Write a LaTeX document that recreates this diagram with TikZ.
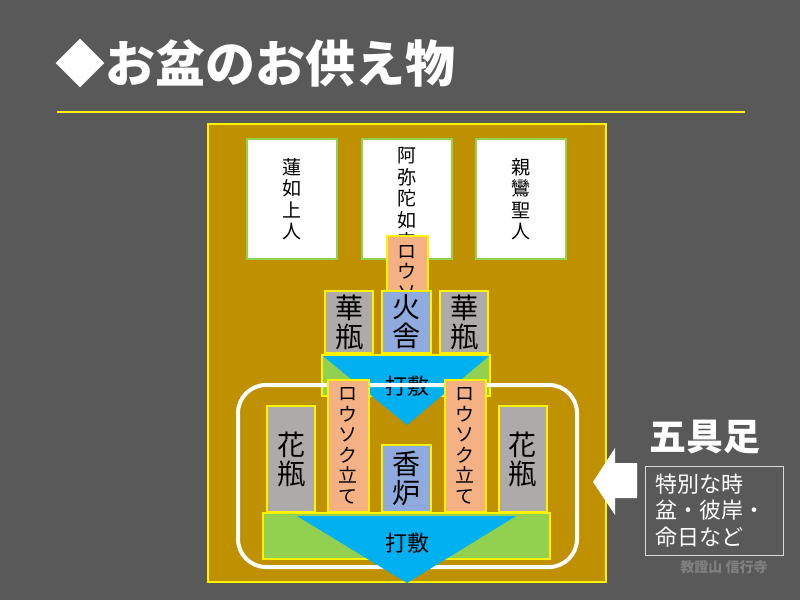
\documentclass[tikz,border=0pt]{standalone}
\usepackage{fontspec}
\setmainfont{Noto Sans CJK JP}
\definecolor{slate}{HTML}{595959}
\definecolor{altar}{HTML}{BF9000}
\definecolor{leaf}{HTML}{92D050}
\definecolor{wax}{HTML}{F4B183}
\definecolor{stone}{HTML}{AEAAAA}
\definecolor{incense}{HTML}{8FAADC}
\definecolor{sky}{HTML}{00B0F0}
\definecolor{note}{HTML}{808080}
\definecolor{frameline}{HTML}{D9D9D9}

\begin{document}
\begin{tikzpicture}[x=1pt,y=-1pt,every node/.style={inner sep=1pt, align=center},
  item/.style={draw=yellow, line width=2pt},
  board/.style={fill=white, draw=leaf, line width=2pt, minimum width=90pt, minimum height=120pt, font=\fontsize{19}{21.5}\selectfont},
  candle/.style={item, fill=wax, minimum width=41pt, font=\fontsize{19}{20.5}\selectfont},
  vase/.style={item, fill=stone, minimum width=48pt, font=\fontsize{28}{29}\selectfont},
  burner/.style={item, fill=incense, minimum width=49pt, font=\fontsize{28}{29}\selectfont},
  cloth/.style={item, fill=leaf},
  clothtext/.style={font=\fontsize{22}{22}\selectfont}]
\fill[slate] (0,0) rectangle (800,600);
\useasboundingbox (0,0) rectangle (800,600);
\node[anchor=west, text=white, font=\bfseries\fontsize{50}{50}\selectfont] (title) at (54,63) {◆お盆のお供え物};
\draw[yellow, line width=2pt] (57,112) -- (745,112);
\node[item, fill=altar, minimum width=398pt, minimum height=458pt] (altar) at (406.5,352.5) {};
\node[board] (rennyo) at (292,199) {蓮\\如\\上\\人};
\node[board] (amida) at (406.5,199) {阿\\弥\\陀\\如\\来};
\node[board] (shinran) at (521,199) {親\\鸞\\聖\\人};
\node[candle, minimum height=94pt] (topcandle) at (407,283) {ロ\\ウ\\ソ\\ク};
\node[vase, minimum height=62pt] (kebyoL) at (349,322) {華\\瓶};
\node[burner, minimum height=62pt] (kasha) at (406.5,322) {火\\舎};
\node[vase, minimum height=62pt] (kebyoR) at (464,322) {華\\瓶};
\node[cloth, minimum width=168pt, minimum height=41pt] (upcloth) at (406,375.5) {};
\fill[sky] (323,356) -- (489,356) -- (407,425) -- cycle;
\node[clothtext] (uplabel) at (407,386) {打敷};
\draw[white, line width=4pt, rounded corners=28pt] (238,385) rectangle (577,567);
\node[candle, minimum height=132pt] (candleL) at (348,446) {ロ\\ウ\\ソ\\ク\\立\\て};
\node[candle, minimum height=132pt] (candleR) at (465,446) {ロ\\ウ\\ソ\\ク\\立\\て};
\node[vase, minimum height=106pt] (kabinL) at (291,459) {花\\瓶};
\node[vase, minimum height=106pt] (kabinR) at (522.5,459) {花\\瓶};
\node[burner, minimum height=67pt] (koro) at (406.5,478.5) {香\\炉};
\node[cloth, minimum width=287pt, minimum height=46pt] (lowcloth) at (406.5,536) {};
\fill[sky] (297,516) -- (516,516) -- (407,583) -- cycle;
\node[clothtext] (lowlabel) at (407,543) {打敷};
\fill[white] (593,482) -- (615,448) -- (615,463) -- (637,463) -- (637,498) -- (615,498) -- (615,515) -- cycle;
\node[text=white, font=\bfseries\fontsize{37}{37}\selectfont] (gogusoku) at (705,437) {五具足};
\node[draw=frameline, line width=1pt, minimum width=138pt, minimum height=89pt, text width=118pt, inner xsep=10pt, align=left, text=white, font=\fontsize{22}{26.5}\selectfont] (special) at (714,510.5) {特別な時\\盆・彼岸・\\命日など};
\node[text=note, font=\bfseries\fontsize{14}{14}\selectfont] (temple) at (724,567) {教證山 信行寺};
\end{tikzpicture}
\end{document}
